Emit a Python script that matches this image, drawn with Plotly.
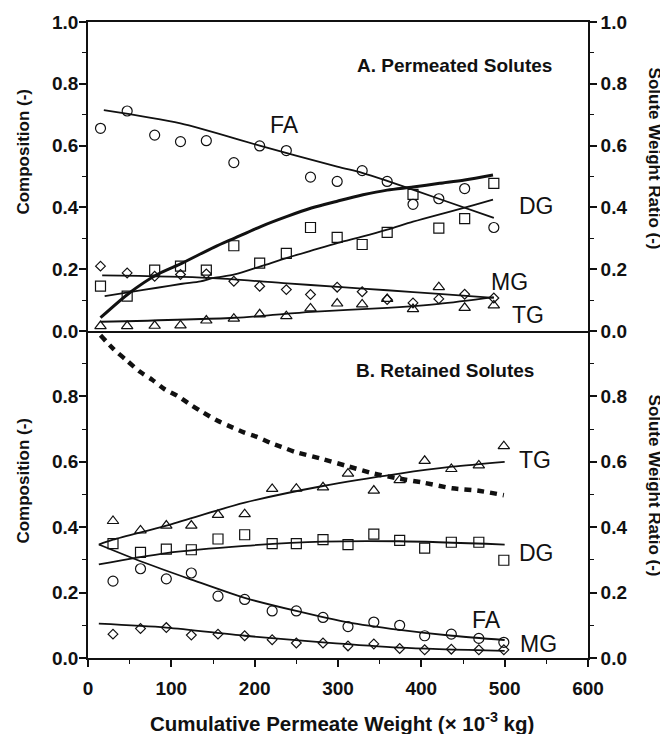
import plotly.graph_objects as go

# ---------------- Panel A: permeated solutes ----------------
x_perm = [15, 47, 80, 111, 142, 175, 206, 238, 267, 299, 329, 359, 390, 421, 452, 487]
fa_perm = [0.656, 0.712, 0.634, 0.613, 0.616, 0.545, 0.599, 0.584, 0.498, 0.484, 0.519, 0.484, 0.410, 0.428, 0.461, 0.335]
dg_perm = [0.145, 0.113, 0.197, 0.210, 0.197, 0.276, 0.220, 0.251, 0.335, 0.303, 0.280, 0.319, 0.442, 0.333, 0.364, 0.478]
mg_perm = [0.210, 0.188, 0.177, 0.183, 0.185, 0.161, 0.145, 0.134, 0.118, 0.142, 0.127, 0.102, 0.091, 0.104, 0.119, 0.107]
tg_perm = [0.016, 0.016, 0.017, 0.018, 0.034, 0.040, 0.054, 0.048, 0.073, 0.089, 0.086, 0.104, 0.071, 0.142, 0.075, 0.083]

fa_perm_fit_x = [19, 111, 206, 299, 329, 359, 421, 487]
fa_perm_fit_y = [0.715, 0.672, 0.600, 0.532, 0.512, 0.486, 0.428, 0.366]
dg_perm_fit_x = [20, 50, 83, 113, 135, 151, 176, 208, 239, 268, 300, 330, 359, 390, 421, 452, 486]
dg_perm_fit_y = [0.113, 0.126, 0.140, 0.153, 0.161, 0.172, 0.183, 0.210, 0.237, 0.260, 0.285, 0.306, 0.328, 0.354, 0.377, 0.399, 0.425]
mg_perm_fit_x = [17, 145, 239, 300, 359, 421, 487]
mg_perm_fit_y = [0.180, 0.172, 0.154, 0.143, 0.132, 0.120, 0.107]
tg_perm_fit_x = [15, 176, 268, 359, 421, 487]
tg_perm_fit_y = [0.030, 0.043, 0.062, 0.075, 0.088, 0.110]
ratio_perm_x = [15, 50, 83, 113, 151, 176, 208, 239, 268, 300, 330, 359, 390, 422, 452, 486]
ratio_perm_y = [0.043, 0.124, 0.183, 0.220, 0.271, 0.301, 0.339, 0.371, 0.398, 0.421, 0.441, 0.456, 0.466, 0.478, 0.489, 0.505]

# ---------------- Panel B: retained solutes ----------------
x_ret = [30, 63, 94, 124, 156, 188, 221, 250, 282, 312, 343, 374, 404, 436, 469, 499]
tg_ret = [0.419, 0.390, 0.405, 0.405, 0.438, 0.440, 0.517, 0.518, 0.522, 0.564, 0.512, 0.544, 0.603, 0.578, 0.589, 0.648]
dg_ret = [0.350, 0.323, 0.333, 0.331, 0.364, 0.377, 0.350, 0.350, 0.362, 0.347, 0.379, 0.360, 0.336, 0.354, 0.354, 0.299]
fa_ret = [0.235, 0.273, 0.242, 0.260, 0.189, 0.179, 0.144, 0.144, 0.124, 0.096, 0.110, 0.100, 0.068, 0.073, 0.060, 0.048]
mg_ret = [0.073, 0.090, 0.093, 0.070, 0.073, 0.068, 0.056, 0.046, 0.046, 0.037, 0.043, 0.029, 0.025, 0.027, 0.025, 0.025]

tg_ret_fit_x = [13, 30, 94, 188, 282, 374, 437, 500]
tg_ret_fit_y = [0.347, 0.362, 0.405, 0.475, 0.526, 0.564, 0.585, 0.600]
dg_ret_fit_x = [13, 94, 188, 282, 374, 500]
dg_ret_fit_y = [0.286, 0.321, 0.343, 0.356, 0.357, 0.347]
fa_ret_fit_x = [13, 63, 124, 188, 250, 312, 374, 437, 500]
fa_ret_fit_y = [0.347, 0.296, 0.240, 0.184, 0.144, 0.109, 0.086, 0.068, 0.055]
mg_ret_fit_x = [13, 94, 188, 282, 374, 500]
mg_ret_fit_y = [0.105, 0.093, 0.068, 0.048, 0.032, 0.022]
ratio_ret_x = [15, 31, 47, 62, 77, 92, 107, 124, 138, 155, 169, 187, 201, 219, 232, 249, 279, 311, 343, 373, 403, 437, 467, 499]
ratio_ret_y = [0.987, 0.944, 0.909, 0.876, 0.851, 0.822, 0.802, 0.773, 0.751, 0.726, 0.710, 0.690, 0.678, 0.658, 0.646, 0.630, 0.610, 0.587, 0.564, 0.549, 0.536, 0.519, 0.512, 0.498]

x_ticks = [0, 100, 200, 300, 400, 500, 600]
y_ticks_top = [0.0, 0.2, 0.4, 0.6, 0.8, 1.0]
y_ticks_bottom = [0.0, 0.2, 0.4, 0.6, 0.8]
y_minor = [0.1, 0.3, 0.5, 0.7, 0.9]

FONT = "Liberation Sans, Arial, Helvetica, sans-serif"
BLACK = "#111111"

fig = go.Figure()


def pts(x, y, symbol, size, xa, ya):
    fig.add_trace(go.Scatter(
        x=x, y=y, mode="markers", xaxis=xa, yaxis=ya, showlegend=False,
        marker=dict(symbol=symbol, size=size, color=BLACK,
                    line=dict(color=BLACK, width=1.2))))


def fit(x, y, xa, ya, width=1.8, dash="solid"):
    fig.add_trace(go.Scatter(
        x=x, y=y, mode="lines", xaxis=xa, yaxis=ya, showlegend=False,
        line=dict(color=BLACK, width=width, shape="spline", smoothing=0.8, dash=dash)))


# Panel A (top): x2 / y2 (left), y4 (right)
fit(fa_perm_fit_x, fa_perm_fit_y, "x2", "y2")
fit(dg_perm_fit_x, dg_perm_fit_y, "x2", "y2")
fit(mg_perm_fit_x, mg_perm_fit_y, "x2", "y2")
fit(tg_perm_fit_x, tg_perm_fit_y, "x2", "y2")
fit(ratio_perm_x, ratio_perm_y, "x2", "y4", width=3)
pts(x_perm, fa_perm, "circle-open", 10, "x2", "y2")
pts(x_perm, dg_perm, "square-open", 10, "x2", "y2")
pts(x_perm, mg_perm, "diamond-open", 7.5, "x2", "y2")
pts(x_perm, tg_perm, "triangle-up-open", 10, "x2", "y2")

# Panel B (bottom): x / y (left), y3 (right)
fit(tg_ret_fit_x, tg_ret_fit_y, "x", "y")
fit(dg_ret_fit_x, dg_ret_fit_y, "x", "y")
fit(fa_ret_fit_x, fa_ret_fit_y, "x", "y")
fit(mg_ret_fit_x, mg_ret_fit_y, "x", "y")
fit(ratio_ret_x, ratio_ret_y, "x", "y3", width=4.5, dash="7px,6px")
pts(x_ret, tg_ret, "triangle-up-open", 10, "x", "y")
pts(x_ret, dg_ret, "square-open", 10, "x", "y")
pts(x_ret, fa_ret, "circle-open", 10, "x", "y")
pts(x_ret, mg_ret, "diamond-open", 7.5, "x", "y")

tickfont = dict(family=FONT, size=19, color=BLACK, weight=700)
split = 328 / 638

axis_common = dict(showline=True, linecolor=BLACK, linewidth=1.6, showgrid=False,
                   zeroline=False, ticks="outside", ticklen=7, tickwidth=1.5,
                   tickcolor=BLACK, tickfont=tickfont, automargin=False)
minor_y = dict(tickvals=y_minor, ticklen=4, tickwidth=1.3, ticks="outside", tickcolor=BLACK)

fig.update_layout(
    width=660, height=726,
    margin=dict(l=80, r=80, t=12, b=76),
    paper_bgcolor="white", plot_bgcolor="white",
    xaxis=dict(**axis_common, anchor="y", domain=[0, 1], range=[0, 600],
               tickvals=x_ticks, ticklabelstandoff=5,
               minor=dict(dtick=50, tick0=0, ticklen=4, tickwidth=1.3, ticks="outside", tickcolor=BLACK)),
    xaxis2=dict(anchor="y2", domain=[0, 1], range=[0, 600], matches="x",
                showline=True, mirror=True, linecolor=BLACK, linewidth=1.6,
                ticks="", showticklabels=False, showgrid=False, zeroline=False),
    yaxis=dict(**axis_common, domain=[0, split], range=[0, 1], tickvals=y_ticks_bottom,
               tickformat=".1f", minor=minor_y, ticklabelstandoff=-3),
    yaxis2=dict(**axis_common, domain=[split, 1], range=[0, 1], tickvals=y_ticks_top,
                tickformat=".1f", anchor="x2", minor=minor_y, ticklabelstandoff=-3),
    yaxis3=dict(**axis_common, overlaying="y", side="right", anchor="x", range=[0, 1],
                tickvals=y_ticks_bottom, tickformat=".1f", minor=minor_y),
    yaxis4=dict(**axis_common, overlaying="y2", side="right", anchor="x2", range=[0, 1],
                tickvals=y_ticks_top, tickformat=".1f", minor=minor_y),
)

label_font = dict(family=FONT, size=23, color=BLACK)
bold_font = dict(family=FONT, size=19, color=BLACK, weight=700)
title_font = dict(family=FONT, size=17, color=BLACK, weight=700)

ann = []
# Panel A labels
ann.append(dict(x=440, y=0.859, xref="x2", yref="y2", text="A. Permeated Solutes", font=bold_font))
ann.append(dict(x=236, y=0.667, xref="x2", yref="y2", text="FA", font=label_font))
ann.append(dict(x=538, y=0.406, xref="x2", yref="y2", text="DG", font=label_font))
ann.append(dict(x=506, y=0.159, xref="x2", yref="y2", text="MG", font=label_font))
ann.append(dict(x=528, y=0.051, xref="x2", yref="y2", text="TG", font=label_font))
# Panel B labels
ann.append(dict(x=428, y=0.88, xref="x", yref="y", text="B. Retained Solutes", font=bold_font))
ann.append(dict(x=536, y=0.607, xref="x", yref="y", text="TG", font=label_font))
ann.append(dict(x=538, y=0.321, xref="x", yref="y", text="DG", font=label_font))
ann.append(dict(x=478, y=0.116, xref="x", yref="y", text="FA", font=label_font))
ann.append(dict(x=540, y=0.043, xref="x", yref="y", text="MG", font=label_font))
# Axis titles
ann.append(dict(x=-0.128, y=(658 - 150) / 638, xref="paper", yref="paper", text="Composition (-)",
                textangle=-90, font=title_font))
ann.append(dict(x=-0.128, y=(658 - 480) / 638, xref="paper", yref="paper", text="Composition (-)",
                textangle=-90, font=title_font))
ann.append(dict(x=1.132, y=(658 - 157) / 638, xref="paper", yref="paper", text="Solute Weight Ratio (-)",
                textangle=90, font=title_font))
ann.append(dict(x=1.132, y=(658 - 485) / 638, xref="paper", yref="paper", text="Solute Weight Ratio (-)",
                textangle=90, font=title_font))
ann.append(dict(x=0.508, y=(658 - 722) / 638, xref="paper", yref="paper",
                text="Cumulative Permeate Weight (\u00d7 10<sup>-3</sup> kg)",
                font=dict(family=FONT, size=20.5, color=BLACK, weight=700)))

for a in ann:
    a.update(showarrow=False, xanchor="center", yanchor="middle")
fig.update_layout(annotations=ann)

fig.write_html("out.html")
